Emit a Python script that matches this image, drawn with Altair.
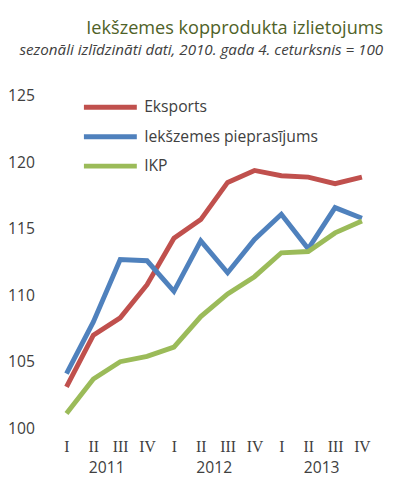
import altair as alt
import pandas as pd

quarters = ["I", "II", "III", "IV"]
years = ["2011", "2012", "2013"]
series_names = ["Eksports", "Iekšzemes pieprasījums", "IKP"]
colors = ["#C0504D", "#4F81BD", "#9BBB59"]

eksports = [103.1, 107.0, 108.3, 110.8, 114.3, 115.7, 118.5, 119.4, 119.0, 118.9, 118.4, 118.9]
pieprasijums = [104.1, 108.0, 112.7, 112.6, 110.3, 114.1, 111.7, 114.2, 116.1, 113.5, 116.6, 115.8]
ikp = [101.1, 103.7, 105.0, 105.4, 106.1, 108.4, 110.1, 111.4, 113.2, 113.3, 114.7, 115.6]

values = [eksports, pieprasijums, ikp]
rows = []
for name, vals in zip(series_names, values):
    for i, v in enumerate(vals):
        rows.append({"idx": i, "series": name, "value": v,
                     "order": series_names.index(name)})
df = pd.DataFrame(rows)

year_df = pd.DataFrame({
    "year": years,
    "pos": [sum(range(k * 4, k * 4 + 4)) / 4 for k in range(len(years))],
})

n = len(eksports)
label_expr = "[" + ",".join("'%s'" % q for q in quarters) + "][datum.value % 4]"

FONT = "Open Sans"
TXT = "#404040"

x_scale = alt.Scale(domain=[-0.5, n - 0.5], nice=False, zero=False)
x_axis = alt.Axis(values=list(range(n)), labelExpr=label_expr, title=None,
                  domain=False, ticks=False, grid=False,
                  labelFont="Liberation Serif", labelFontSize=16,
                  labelColor=TXT, labelPadding=11, labelOverlap=False,
                  labelFlush=False)

lines = alt.Chart(df).mark_line(strokeWidth=5).encode(
    x=alt.X("idx:Q", scale=x_scale, axis=x_axis),
    y=alt.Y("value:Q", scale=alt.Scale(domain=[100, 125], nice=False, zero=False),
            axis=alt.Axis(values=[100, 105, 110, 115, 120, 125], title=None,
                          domain=False, ticks=False, grid=False,
                          labelFont=FONT, labelFontSize=16, labelColor=TXT,
                          labelPadding=19)),
    color=alt.Color("series:N",
                    scale=alt.Scale(domain=series_names, range=colors),
                    sort=series_names,
                    legend=alt.Legend(orient="none", legendX=47, legendY=0,
                                      title=None, padding=0,
                                      symbolType="M-3,0H3", symbolSize=324,
                                      symbolStrokeWidth=5,
                                      labelFont=FONT, labelFontSize=16,
                                      labelColor=TXT, labelOffset=23,
                                      labelLimit=0, rowPadding=8)),
    order=alt.Order("order:Q"),
)

year_text = alt.Chart(year_df).mark_text(
    font=FONT, fontSize=16, color=TXT, baseline="middle"
).encode(
    x=alt.X("pos:Q", scale=x_scale, axis=x_axis),
    y=alt.value(380),
    text="year:N",
)

chart = alt.layer(lines, year_text).properties(
    width=329,
    height=339,
    padding={"left": 46, "top": 85, "right": 17, "bottom": 45},
    autosize=alt.AutoSizeParams(type="none"),
    title=alt.TitleParams(
        text="Iekšzemes kopprodukta izlietojums",
        subtitle="sezonāli izlīdzināti dati, 2010. gada 4. ceturksnis = 100",
        anchor="end",
        font=FONT, fontSize=18.5, fontWeight="normal", color="#4F6228",
        subtitleFont=FONT, subtitleFontSize=15.5, subtitleFontStyle="italic",
        subtitleColor=TXT, subtitlePadding=6, offset=30, dx=8,
    ),
).configure_view(stroke=None)

chart.save("out.html", embed_options={"renderer": "svg", "actions": False})
